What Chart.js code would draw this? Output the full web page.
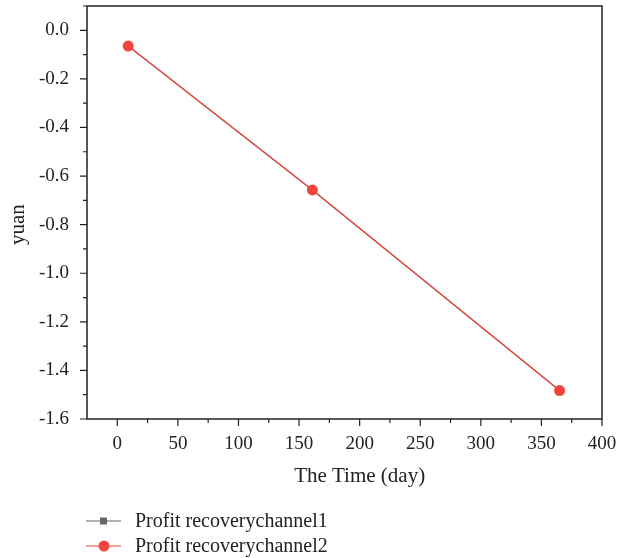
<!DOCTYPE html>
<html>
<head>
<meta charset="utf-8">
<script src="https://cdn.jsdelivr.net/npm/chart.js@4"></script>
<style>
  html, body { margin: 0; padding: 0; background: #fff; }
  #wrap { width: 618px; height: 558px; }
</style>
</head>
<body>
<div id="wrap"><canvas id="myChart" width="618" height="558"></canvas></div>
<script>
// values
var days = [9, 161, 365];
var channel1 = [-0.065, -0.657, -1.483];
var channel2 = [-0.065, -0.657, -1.483];
var labels = ['Profit recoverychannel1', 'Profit recoverychannel2'];
var xTicks = [0, 50, 100, 150, 200, 250, 300, 350, 400];
var yTicks = [-1.6, -1.4, -1.2, -1.0, -0.8, -0.6, -0.4, -0.2, 0.0];
var xTitle = 'The Time (day)';
var yTitle = 'yuan';

var serif = '"Liberation Serif", "DejaVu Serif", serif';
var ink = '#222';
var red = '#F2453D';
var grey = '#666666';

function pts(ys) {
  return days.map(function (d, i) { return { x: d, y: ys[i] }; });
}

// outward major/minor ticks + frame + axis titles, placed from the chart's scales
var frameTicks = {
  id: 'frameTicks',
  afterDraw: function (chart) {
    var ctx = chart.ctx, a = chart.chartArea;
    var xs = chart.scales.x, ys = chart.scales.y;
    ctx.save();
    ctx.strokeStyle = '#222';
    ctx.lineWidth = 1.5;
    ctx.strokeRect(a.left, a.top, a.right - a.left, a.bottom - a.top);
    ctx.lineWidth = 1.2;
    ctx.beginPath();
    for (var v = 0; v <= 400; v += 25) {
      var px = xs.getPixelForValue(v);
      var len = (v % 50 === 0) ? 7 : 4;
      ctx.moveTo(px, a.bottom);
      ctx.lineTo(px, a.bottom + len);
    }
    for (var k = -16; k <= 1; k++) {
      var py = ys.getPixelForValue(k / 10);
      var l = (k % 2 === 0) ? 7 : 4;
      ctx.moveTo(a.left, py);
      ctx.lineTo(a.left - l, py);
    }
    ctx.stroke();

    // axis titles
    ctx.fillStyle = ink;
    ctx.font = '21px ' + serif;
    ctx.textAlign = 'center';
    ctx.textBaseline = 'middle';
    ctx.fillText(xTitle, xs.getPixelForValue(200), 476);
    ctx.translate(18, ys.getPixelForValue(-0.8));
    ctx.rotate(-Math.PI / 2);
    ctx.fillText(yTitle, 0, 0);
    ctx.restore();
  }
};

// legend stacked under the chart, line + marker like the original
var stackLegend = {
  id: 'stackLegend',
  afterDraw: function (chart) {
    var ctx = chart.ctx;
    var rows = [521, 546];
    ctx.save();
    chart.data.datasets.forEach(function (ds, i) {
      var y = rows[i];
      ctx.strokeStyle = ds.borderColor;
      ctx.lineWidth = 1.2;
      ctx.beginPath();
      ctx.moveTo(86, y);
      ctx.lineTo(121, y);
      ctx.stroke();
      ctx.fillStyle = ds.pointBackgroundColor;
      if (ds.pointStyle === 'rect') {
        ctx.fillRect(100, y - 3.5, 7, 7);
      } else {
        ctx.beginPath();
        ctx.arc(104, y, 5.5, 0, Math.PI * 2);
        ctx.fill();
      }
      ctx.fillStyle = ink;
      ctx.font = '20px ' + serif;
      ctx.textBaseline = 'middle';
      ctx.fillText(ds.label, 135, y + 1);
    });
    ctx.restore();
  }
};

var chart = new Chart(document.getElementById('myChart'), {
  type: 'line',
  data: {
    datasets: [{
      label: labels[0],
      data: pts(channel1),
      borderColor: grey,
      backgroundColor: grey,
      pointBackgroundColor: grey,
      pointBorderWidth: 0,
      pointStyle: 'rect',
      pointRadius: 4,
      borderWidth: 1.2,
      order: 2
    }, {
      label: labels[1],
      data: pts(channel2),
      borderColor: red,
      backgroundColor: red,
      pointBackgroundColor: red,
      pointBorderWidth: 0,
      pointStyle: 'circle',
      pointRadius: 5.5,
      borderWidth: 1.2,
      order: 1
    }]
  },
  options: {
    responsive: false,
    animation: false,
    layout: { padding: { left: 0, right: 0, top: 0, bottom: 66 } },
    plugins: {
      legend: { display: false },
      tooltip: { enabled: false }
    },
    scales: {
      x: {
        type: 'linear',
        min: -25,
        max: 400,
        afterBuildTicks: function (s) { s.ticks = xTicks.map(function (v) { return { value: v }; }); },
        afterFit: function (s) { s.height = 73; s.paddingRight = 16; s.paddingLeft = 0; },
        grid: { display: false, drawTicks: false },
        border: { display: false },
        ticks: { color: ink, font: { family: serif, size: 19 }, padding: 14, maxRotation: 0 }
      },
      y: {
        type: 'linear',
        min: -1.6,
        max: 0.1,
        afterBuildTicks: function (s) { s.ticks = yTicks.map(function (v) { return { value: v }; }); },
        afterFit: function (s) { s.width = 87; s.paddingTop = 6; s.paddingBottom = 0; },
        grid: { display: false, drawTicks: false },
        border: { display: false },
        ticks: {
          color: ink, font: { family: serif, size: 19 }, padding: 18,
          callback: function (v) { return v.toFixed(1); }
        }
      }
    }
  },
  plugins: [frameTicks, stackLegend]
});
</script>
</body>
</html>
